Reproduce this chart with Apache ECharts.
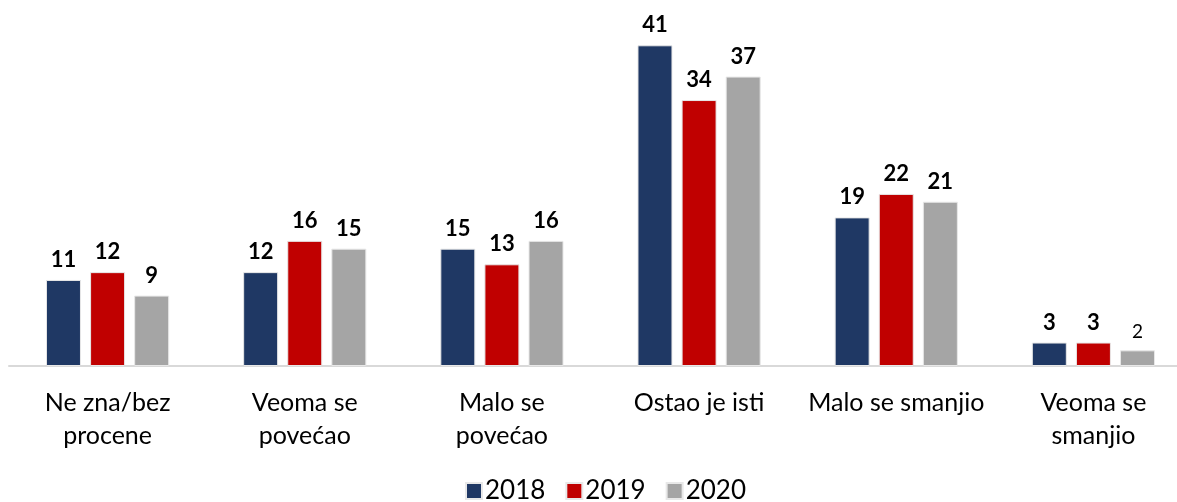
<!DOCTYPE html>
<html>
<head>
<meta charset="utf-8">
<script src="https://cdn.jsdelivr.net/npm/echarts@6/dist/echarts.min.js"></script>
<style>
html, body { margin: 0; padding: 0; background: #fff; }
#main { width: 1177px; height: 502px; }
</style>
</head>
<body>
<div id="main"></div>
<script>
var categories = ['Ne zna/bez\nprocene', 'Veoma se\npovećao', 'Malo se\npovećao', 'Ostao je isti', 'Malo se smanjio', 'Veoma se\nsmanjio'];
var years = ['2018', '2019', '2020'];
var data2018 = [11, 12, 15, 41, 19, 3];
var data2019 = [12, 16, 13, 34, 22, 3];
var data2020 = [9, 15, 16, 37, 21, 2];
var colors = ['#1F3864', '#C00000', '#A5A5A5'];

var font = 'Lato, "Open Sans", sans-serif';

function makeSeries(name, data, color) {
	return {
		name: name,
		type: 'bar',
		barWidth: 35,
		barGap: '26%',
		data: data.map(function(v) {
			// the "2" label is drawn smaller in the original
			if (v < 3) {
				return { value: v, label: { fontSize: 19, fontWeight: 'normal' } };
			}
			return v;
		}),
		itemStyle: { color: color, borderColor: '#e8e8e8', borderWidth: 1 },
		label: {
			show: true,
			position: 'top',
			distance: 9,
			color: '#000',
			fontFamily: font,
			fontWeight: 'bold',
			fontSize: 22
		}
	};
}

var myChart = echarts.init(document.getElementById('main'));
var option = {
	animation: false,
	color: colors,
	legend: {
		data: years,
		bottom: -7,
		left: 460,
		itemWidth: 16,
		itemHeight: 16,
		itemGap: 20,
		icon: 'rect',
		textStyle: { fontFamily: font, fontSize: 26, color: '#000', padding: [0, 0, 0, -2] }
	},
	grid: { left: 9, width: 1183, top: 14, bottom: 136, containLabel: false, outerBoundsMode: 'none' },
	xAxis: {
		type: 'category',
		data: categories,
		axisLine: { lineStyle: { color: '#D9D9D9', width: 2 } },
		axisTick: { show: false },
		axisLabel: {
			interval: 0,
			margin: 20,
			color: '#000',
			fontFamily: font,
			fontSize: 25,
			lineHeight: 33
		}
	},
	yAxis: {
		type: 'value',
		min: 0,
		max: 45,
		show: false,
		splitLine: { show: false }
	},
	series: [
		makeSeries(years[0], data2018, colors[0]),
		makeSeries(years[1], data2019, colors[1]),
		makeSeries(years[2], data2020, colors[2])
	]
};
myChart.setOption(option);
</script>
</body>
</html>
